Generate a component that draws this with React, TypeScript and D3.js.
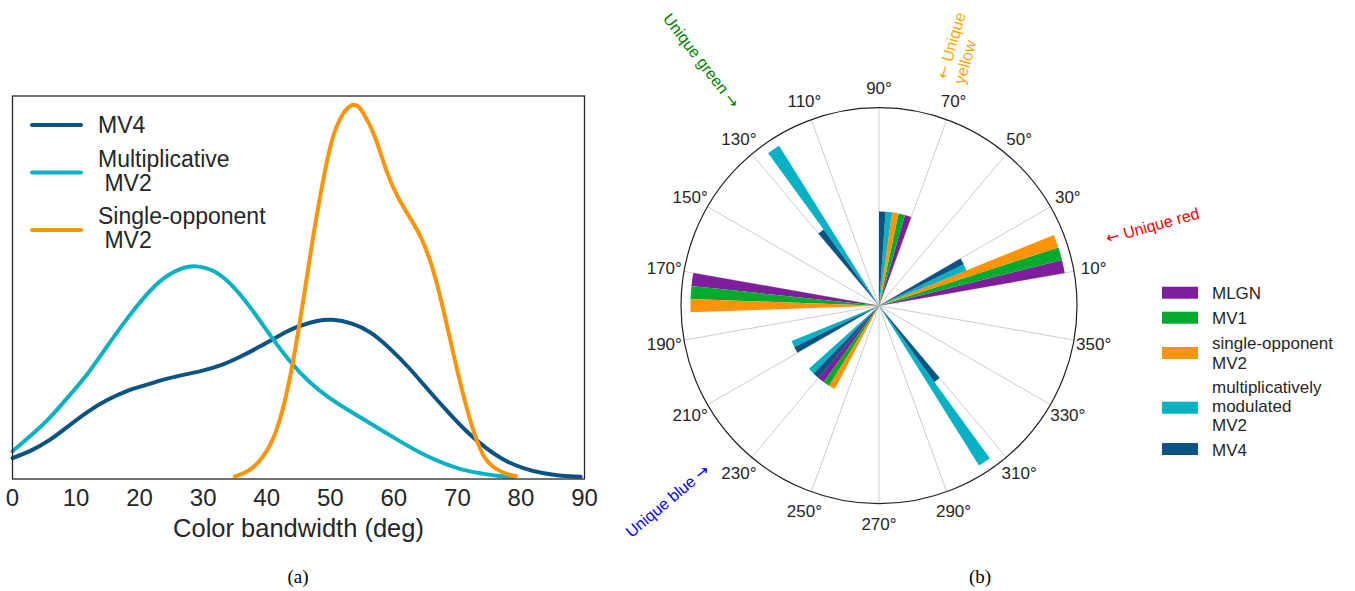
import React from "react";
import * as d3 from "d3";

const W = 1355;
const H = 591;
const FONT = "'Liberation Sans', Arial, Helvetica, sans-serif";
const ARROW_FONT = "'DejaVu Sans', sans-serif";
const TXT = "#262626";

// ---------- Panel (a): color bandwidth distributions ----------
const xTicks = [0, 10, 20, 30, 40, 50, 60, 70, 80, 90];

const mv4X = [0, 2.8, 5.8, 8.8, 11.9, 14.9, 17.9, 20.9, 23.9, 26.9, 29.9, 32.9, 35.9, 38.9, 41.9, 44.9, 47.9, 50.4, 53.4, 56.4, 59.3, 62.4, 65.4, 68.4, 71.4, 74.4, 77.4, 80.4, 83.4, 86.4, 89.4];
const mv4Y = [0.052, 0.071, 0.099, 0.136, 0.174, 0.204, 0.227, 0.243, 0.258, 0.27, 0.281, 0.296, 0.318, 0.344, 0.372, 0.396, 0.411, 0.414, 0.404, 0.38, 0.34, 0.288, 0.231, 0.175, 0.123, 0.08, 0.047, 0.026, 0.013, 0.006, 0.003];

const multX = [0, 2.8, 5.8, 8.8, 11.9, 14.9, 17.9, 20.9, 23.9, 26.9, 29.0, 31.7, 34.7, 37.7, 40.7, 43.7, 46.7, 49.7, 52.8, 55.8, 58.8, 61.8, 64.8, 67.8, 70.8, 73.8, 76.2, 78.9];
const multY = [0.07, 0.11, 0.157, 0.213, 0.275, 0.345, 0.414, 0.476, 0.524, 0.55, 0.554, 0.541, 0.501, 0.44, 0.37, 0.305, 0.252, 0.212, 0.178, 0.148, 0.118, 0.088, 0.061, 0.039, 0.022, 0.012, 0.006, 0.003];

const soX = [35.0, 37.7, 40.1, 41.9, 43.7, 45.6, 47.4, 49.2, 51.0, 53.4, 55.2, 57.0, 58.8, 60.6, 62.4, 64.2, 66.0, 67.8, 69.6, 71.4, 73.2, 75.0, 77.4, 79.2];
const soY = [0.004, 0.026, 0.074, 0.144, 0.267, 0.45, 0.641, 0.806, 0.92, 0.976, 0.955, 0.894, 0.806, 0.737, 0.685, 0.632, 0.554, 0.44, 0.309, 0.188, 0.092, 0.039, 0.013, 0.005];

const C_MV4 = "#0b5382";
const C_MULT = "#08b1c4";
const C_SO = "#ff9408";
const C_MLGN = "#7e1e9c";
const C_MV1 = "#02ab2e";

const leftSeries = [
  { label: ["MV4"], color: C_MV4, xs: mv4X, ys: mv4Y },
  { label: ["Multiplicative", " MV2"], color: C_MULT, xs: multX, ys: multY },
  { label: ["Single-opponent", " MV2"], color: C_SO, xs: soX, ys: soY },
];

// ---------- Panel (b): polar histogram of preferred hues ----------
const binStarts = [10, 30, 50, 70, 90, 110, 130, 150, 170, 190, 210, 230, 250, 270, 290, 310, 330, 350];
const polarTicks = [10, 30, 50, 70, 90, 110, 130, 150, 170, 190, 210, 230, 250, 270, 290, 310, 330, 350];
const mlgnCounts = [2, 0, 0, 1, 0, 0, 0, 0, 2, 0, 0, 1, 0, 0, 0, 0, 0, 0];
const mv1Counts = [2, 0, 0, 1, 0, 0, 0, 0, 2, 0, 0, 1, 0, 0, 0, 0, 0, 0];
const soCounts = [2, 0, 0, 1, 0, 0, 0, 0, 2, 0, 0, 1, 0, 0, 0, 0, 0, 0];
const multCounts = [1, 0, 0, 1, 0, 2, 0, 0, 0, 1, 1, 0, 0, 0, 2, 0, 0, 0];
const mv4Counts = [1, 0, 0, 1, 0, 1, 0, 0, 0, 1, 1, 0, 0, 0, 1, 0, 0, 0];

const polarSeries = [
  { label: ["MLGN"], color: C_MLGN, counts: mlgnCounts },
  { label: ["MV1"], color: C_MV1, counts: mv1Counts },
  { label: ["single-opponent", "MV2"], color: C_SO, counts: soCounts },
  { label: ["multiplicatively", "modulated", "MV2"], color: C_MULT, counts: multCounts },
  { label: ["MV4"], color: C_MV4, counts: mv4Counts },
];

const BIN_WIDTH = 20;
const R_MAX = 2.1;

// each line: [text before arrow, arrow, text after arrow]
const annotations = [
  { lines: [["Unique green ", "\u2192", ""]], color: "#008000", x: 697, y: 64, rot: 52.5, anchor: "middle" },
  { lines: [["", "\u2190", " Unique"], ["", "", "yellow"]], color: "#ffa500", x: 947, y: 80, rot: -74, anchor: "start" },
  { lines: [["", "\u2190", " Unique red"]], color: "#ff0000", x: 1154, y: 231, rot: -15.5, anchor: "middle" },
  { lines: [["Unique blue ", "\u2192", ""]], color: "#0000ff", x: 671, y: 505, rot: -40, anchor: "middle" },
];

export default function App() {
  // left scales
  const x = d3.scaleLinear().domain([0, 90]).range([12.5, 584.5]);
  const y = d3.scaleLinear().domain([0, 1]).range([478, 96]);
  const line = d3
    .line<[number, number]>()
    .x((d) => x(d[0]))
    .y((d) => y(d[1]))
    .curve(d3.curveNatural);

  // polar
  const cx = 879;
  const cy = 305.7;
  const r = d3.scaleLinear().domain([0, R_MAX]).range([0, 198]);
  const outerR = r(R_MAX);
  const sub = BIN_WIDTH / polarSeries.length;
  const rad = (deg: number) => (deg * Math.PI) / 180;
  const arc = d3.arc<any>();

  const legendLeftY = [125, 172.6, 230];
  const legendLeftText = [[133.4], [167, 191], [224.4, 248.4]];

  const polarLegendRectY = [286.7, 311.7, 347, 401.7, 443];
  const polarLegendText = [[299], [323.8], [349.4, 368.6], [392.8, 412, 431.2], [455.8]];

  return (
    <svg width={W} height={H} style={{ position: "absolute", left: 0, top: 0, background: "#fff" }}>
      {/* ---------- Panel (a) ---------- */}
      <g>
        {leftSeries.map((s) => (
          <path
            key={s.label[0]}
            d={line(s.xs.map((v, i) => [v, s.ys[i]] as [number, number])) || ""}
            fill="none"
            stroke={s.color}
            strokeWidth={4}
            strokeLinecap="round"
            strokeLinejoin="round"
          />
        ))}
        <rect x={12.5} y={96} width={572} height={383} fill="none" stroke={TXT} strokeWidth={1.3} />
        {xTicks.map((t) => (
          <text key={t} x={x(t)} y={506} textAnchor="middle" fontFamily={FONT} fontSize={24} fill={TXT}>
            {t}
          </text>
        ))}
        <text x={298.5} y={537} textAnchor="middle" fontFamily={FONT} fontSize={25.5} fill={TXT}>
          Color bandwidth (deg)
        </text>
        {leftSeries.map((s, i) => (
          <g key={"lg" + i}>
            <line x1={32} x2={81} y1={legendLeftY[i]} y2={legendLeftY[i]} stroke={s.color} strokeWidth={4} strokeLinecap="round" />
            {s.label.map((l, j) => (
              <text key={j} x={98} y={legendLeftText[i][j]} fontFamily={FONT} fontSize={23} fill={TXT} style={{ whiteSpace: "pre" }}>
                {l}
              </text>
            ))}
          </g>
        ))}
        <text x={298} y={583} textAnchor="middle" fontFamily="'Liberation Serif', 'DejaVu Serif', serif" fontSize={19} fill="#000">
          (a)
        </text>
      </g>

      {/* ---------- Panel (b) ---------- */}
      <g>
        {polarTicks.map((t) => (
          <line
            key={"g" + t}
            x1={cx}
            y1={cy}
            x2={cx + outerR * Math.cos(rad(t))}
            y2={cy - outerR * Math.sin(rad(t))}
            stroke="#cccccc"
            strokeWidth={1}
          />
        ))}
        <circle cx={cx} cy={cy} r={outerR} fill="none" stroke="#222" strokeWidth={1.2} />
        <g transform={`translate(${cx},${cy})`}>
          {polarSeries.map((s, si) =>
            s.counts.map((c, bi) => {
              if (!c) return null;
              const a0 = binStarts[bi] + si * sub;
              const a1 = a0 + sub;
              const d = arc({
                innerRadius: 0,
                outerRadius: r(c),
                startAngle: rad(90 - a1),
                endAngle: rad(90 - a0),
              });
              return <path key={s.label[0] + bi} d={d || ""} fill={s.color} />;
            })
          )}
        </g>
        {polarTicks.map((t) => (
          <text
            key={"t" + t}
            x={cx + 218 * Math.cos(rad(t))}
            y={cy - 218 * Math.sin(rad(t))}
            dy="0.36em"
            textAnchor="middle"
            fontFamily={FONT}
            fontSize={17}
            fill={TXT}
          >
            {t}°
          </text>
        ))}
        {annotations.map((a, i) => (
          <text
            key={"an" + i}
            transform={`translate(${a.x},${a.y}) rotate(${a.rot})`}
            textAnchor={a.anchor}
            fontFamily={FONT}
            fontSize={16}
            fill={a.color}
            style={{ whiteSpace: "pre" }}
          >
            {a.lines.map((l, j) => (
              <tspan key={j} x={0} dy={j === 0 ? 0 : 18}>
                {l[0]}
                {l[1] ? <tspan fontFamily={ARROW_FONT}>{l[1]}</tspan> : null}
                {l[2]}
              </tspan>
            ))}
          </text>
        ))}
        {polarSeries.map((s, i) => (
          <g key={"pl" + i}>
            <rect x={1162} y={polarLegendRectY[i]} width={36} height={12} fill={s.color} />
            {s.label.map((l, j) => (
              <text key={j} x={1212} y={polarLegendText[i][j]} fontFamily={FONT} fontSize={17} fill={TXT}>
                {l}
              </text>
            ))}
          </g>
        ))}
        <text x={980} y={583} textAnchor="middle" fontFamily="'Liberation Serif', 'DejaVu Serif', serif" fontSize={19} fill="#000">
          (b)
        </text>
      </g>
    </svg>
  );
}
